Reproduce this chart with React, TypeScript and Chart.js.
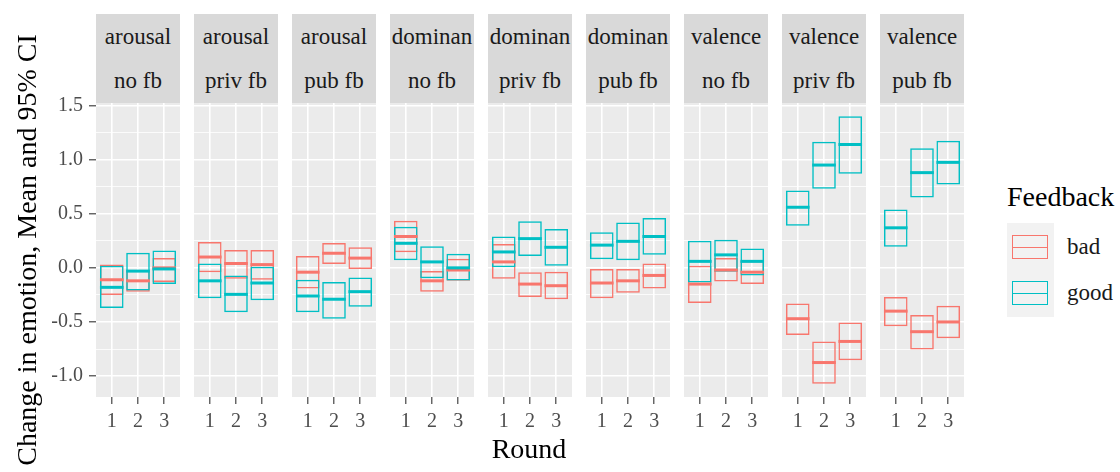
import React, { useEffect, useRef } from 'react';
import { Chart, registerables } from 'chart.js';

Chart.register(...registerables);

// ---------------- data ----------------
const MEASURES = ['arousal', 'dominan', 'valence'];
const CONDITIONS = ['no fb', 'priv fb', 'pub fb'];
const ROUNDS = [1, 2, 3];
const FEEDBACK = ['bad', 'good'];
const Y_MAJOR = [-1.0, -0.5, 0.0, 0.5, 1.0, 1.5];
const Y_MINOR = [-0.75, -0.25, 0.25, 0.75, 1.25];
const Y_TITLE = 'Change in emotion, Mean and 95% CI';
const X_TITLE = 'Round';
const LEGEND_TITLE = 'Feedback';

// one row per panel (arousal no/priv/pub, dominan no/priv/pub, valence no/priv/pub), one value per round
const BAD_MEAN = [
  [-0.11, -0.12, 0.0],
  [0.1, 0.04, 0.03],
  [-0.04, 0.135, 0.09],
  [0.29, -0.12, -0.02],
  [0.055, -0.15, -0.165],
  [-0.14, -0.12, -0.07],
  [-0.15, -0.02, -0.04],
  [-0.47, -0.875, -0.68],
  [-0.4, -0.59, -0.5],
];
const BAD_LO = [
  [-0.25, -0.22, -0.13],
  [-0.04, -0.1, -0.11],
  [-0.19, 0.035, -0.01],
  [0.145, -0.22, -0.12],
  [-0.1, -0.27, -0.29],
  [-0.28, -0.23, -0.19],
  [-0.325, -0.125, -0.15],
  [-0.62, -1.07, -0.855],
  [-0.54, -0.755, -0.65],
];
const BAD_HI = [
  [0.03, -0.02, 0.09],
  [0.24, 0.165, 0.165],
  [0.11, 0.23, 0.19],
  [0.435, -0.03, 0.085],
  [0.22, -0.04, -0.035],
  [-0.01, -0.01, 0.04],
  [0.02, 0.09, 0.065],
  [-0.33, -0.68, -0.505],
  [-0.27, -0.435, -0.35],
];
const GOOD_MEAN = [
  [-0.18, -0.03, -0.01],
  [-0.12, -0.245, -0.14],
  [-0.26, -0.29, -0.22],
  [0.227, 0.055, 0.0],
  [0.147, 0.27, 0.19],
  [0.21, 0.245, 0.29],
  [0.06, 0.12, 0.06],
  [0.56, 0.95, 1.14],
  [0.37, 0.88, 0.975],
];
const GOOD_LO = [
  [-0.37, -0.21, -0.15],
  [-0.28, -0.41, -0.3],
  [-0.41, -0.47, -0.36],
  [0.07, -0.095, -0.117],
  [0.006, 0.11, 0.02],
  [0.08, 0.07, 0.12],
  [-0.135, -0.035, -0.07],
  [0.39, 0.73, 0.87],
  [0.196, 0.65, 0.77],
];
const GOOD_HI = [
  [0.02, 0.14, 0.16],
  [0.04, -0.07, 0.01],
  [-0.11, -0.13, -0.09],
  [0.38, 0.2, 0.13],
  [0.29, 0.43, 0.36],
  [0.33, 0.42, 0.46],
  [0.25, 0.26, 0.18],
  [0.715, 1.165, 1.4],
  [0.54, 1.105, 1.175],
];

// ---------------- style / layout ----------------
const FONT = "'Liberation Serif', 'Times New Roman', serif";
const BAD_COLOR = '#F8766D';
const GOOD_COLOR = '#00BFC4';
const PANEL_BG = '#EBEBEB';
const STRIP_BG = '#D9D9D9';
const Y_MIN = -1.1935;
const Y_MAX = 1.5235;
const X_MIN = 0.4;
const X_MAX = 3.6;
const CROSSBAR_WIDTH = 0.9;

const PAGE_W = 1120;
const PAGE_H = 472;
const PANEL_LEFT0 = 96;
const PANEL_STEP = 98;
const PANEL_W = 84;
const PANEL_TOP = 103;
const PANEL_BOTTOM = 397;
const X_AXIS_H = 43;
const Y_AXIS_W = 96;
const STRIP_TOP = 14;

const isMajor = (v: number) => Y_MAJOR.some((m) => Math.abs(m - v) < 1e-9);

const bgPlugin = {
  id: 'panelBg',
  beforeDraw(chart: any) {
    const { ctx, chartArea: a } = chart;
    ctx.save();
    ctx.fillStyle = PANEL_BG;
    ctx.fillRect(a.left, a.top, a.right - a.left, a.bottom - a.top);
    ctx.restore();
  },
};

function halfBar(ctx: any) {
  const s = ctx.chart.scales.x;
  return Math.abs(s.getPixelForValue(1 + CROSSBAR_WIDTH / 2) - s.getPixelForValue(1));
}

function makeConfig(p: number): any {
  const first = p === 0;
  const meanSet = (label: string, means: number[], color: string, order: number) => ({
    type: 'scatter',
    label,
    data: ROUNDS.map((r, i) => ({ x: r, y: means[i] })),
    pointStyle: 'line',
    pointRadius: halfBar,
    pointHoverRadius: halfBar,
    pointBorderWidth: 3,
    pointBorderColor: color,
    pointBackgroundColor: color,
    order,
  });
  const boxSet = (label: string, lo: number[], hi: number[], color: string, order: number) => ({
    type: 'bar',
    label,
    data: ROUNDS.map((r, i) => ({ x: r, y: [lo[i], hi[i]] })),
    backgroundColor: 'rgba(0,0,0,0)',
    borderColor: color,
    borderWidth: 1.5,
    borderSkipped: false,
    grouped: false,
    barPercentage: CROSSBAR_WIDTH,
    categoryPercentage: 1,
    order,
  });
  return {
    type: 'bar',
    data: {
      datasets: [
        meanSet(FEEDBACK[1], GOOD_MEAN[p], GOOD_COLOR, 0),
        meanSet(FEEDBACK[0], BAD_MEAN[p], BAD_COLOR, 1),
        boxSet(FEEDBACK[1], GOOD_LO[p], GOOD_HI[p], GOOD_COLOR, 2),
        boxSet(FEEDBACK[0], BAD_LO[p], BAD_HI[p], BAD_COLOR, 3),
      ],
    },
    options: {
      animation: false,
      responsive: false,
      devicePixelRatio: 1,
      events: [],
      layout: {
        padding: { top: PANEL_TOP, left: 0, right: 0, bottom: PAGE_H - PANEL_BOTTOM - X_AXIS_H },
      },
      plugins: { legend: { display: false }, tooltip: { enabled: false }, title: { display: false } },
      scales: {
        x: {
          type: 'linear',
          min: X_MIN,
          max: X_MAX,
          offset: false,
          border: { display: false },
          grid: {
            offset: false,
            color: '#FFFFFF',
            lineWidth: 1.6,
            drawTicks: true,
            tickLength: 7,
            tickWidth: 1.1,
            tickColor: '#333333',
          },
          ticks: {
            font: { family: FONT, size: 20 },
            color: '#4D4D4D',
            padding: 6,
            maxRotation: 0,
            autoSkip: false,
            callback: (v: any) => String(v),
          },
          afterBuildTicks: (scale: any) => {
            scale.ticks = ROUNDS.map((v) => ({ value: v }));
          },
          afterFit: (scale: any) => {
            scale.height = X_AXIS_H;
          },
        },
        y: {
          type: 'linear',
          min: Y_MIN,
          max: Y_MAX,
          border: { display: false },
          grid: {
            color: '#FFFFFF',
            lineWidth: (ctx: any) => (ctx.tick && isMajor(ctx.tick.value) ? 1.6 : 0.8),
            drawTicks: first,
            tickLength: 7,
            tickWidth: 1.1,
            tickColor: (ctx: any) => (ctx.tick && isMajor(ctx.tick.value) ? '#333333' : 'rgba(0,0,0,0)'),
          },
          ticks: {
            display: first,
            font: { family: FONT, size: 20 },
            color: '#4D4D4D',
            padding: 6,
            autoSkip: false,
            callback: (v: any) => (isMajor(v) ? Number(v).toFixed(1) : ''),
          },
          title: {
            display: first,
            text: Y_TITLE,
            font: { family: FONT, size: 28 },
            color: '#000000',
            padding: { top: 12, bottom: 0 },
          },
          afterBuildTicks: (scale: any) => {
            scale.ticks = [...Y_MAJOR, ...Y_MINOR].sort((a, b) => a - b).map((v) => ({ value: v }));
          },
          afterFit: (scale: any) => {
            scale.width = first ? Y_AXIS_W : 0;
          },
        },
      },
    },
    plugins: [bgPlugin],
  };
}

function Panel({ index }: { index: number }) {
  const ref = useRef<HTMLCanvasElement | null>(null);
  const first = index === 0;
  const panelLeft = PANEL_LEFT0 + PANEL_STEP * index;
  const left = first ? 0 : panelLeft;
  const width = first ? panelLeft + PANEL_W : PANEL_W;
  const top = 0;
  const height = PAGE_H;
  useEffect(() => {
    if (!ref.current) return;
    const chart = new Chart(ref.current, makeConfig(index));
    return () => chart.destroy();
  }, [index]);
  return (
    <canvas
      ref={ref}
      width={width}
      height={height}
      style={{ position: 'absolute', left, top, width, height }}
    />
  );
}

function Strip({ index }: { index: number }) {
  const left = PANEL_LEFT0 + PANEL_STEP * index;
  const line = (text: string, top: number) => (
    <div
      style={{
        position: 'absolute',
        left: 0,
        top,
        width: '100%',
        height: 30,
        lineHeight: '30px',
        textAlign: 'center',
        whiteSpace: 'nowrap',
      }}
    >
      {text}
    </div>
  );
  return (
    <div
      style={{
        position: 'absolute',
        left,
        top: STRIP_TOP,
        width: PANEL_W,
        height: PANEL_TOP - STRIP_TOP,
        background: STRIP_BG,
        overflow: 'hidden',
        fontFamily: FONT,
        fontSize: 23,
        color: '#1A1A1A',
      }}
    >
      {line(MEASURES[Math.floor(index / 3)], 7.5)}
      {line(CONDITIONS[index % 3], 51.5)}
    </div>
  );
}

function LegendKey({ color, top }: { color: string; top: number }) {
  return (
    <div
      style={{
        position: 'absolute',
        left: 1012,
        top,
        width: 36,
        height: 24,
        boxSizing: 'border-box',
        border: `1.5px solid ${color}`,
      }}
    >
      <div
        style={{
          position: 'absolute',
          left: 0,
          right: 0,
          top: 10.5,
          height: 1.5,
          background: color,
        }}
      />
    </div>
  );
}

export default function App() {
  const panels = Array.from({ length: MEASURES.length * CONDITIONS.length }, (_, i) => i);
  return (
    <div
      style={{
        position: 'absolute',
        left: 0,
        top: 0,
        width: PAGE_W,
        height: PAGE_H,
        background: '#FFFFFF',
        overflow: 'hidden',
        fontFamily: FONT,
      }}
    >
      {panels.map((i) => (
        <Strip key={'s' + i} index={i} />
      ))}
      {panels.map((i) => (
        <Panel key={'p' + i} index={i} />
      ))}
      <div
        style={{
          position: 'absolute',
          left: 429,
          top: 432,
          width: 200,
          height: 34,
          lineHeight: '34px',
          textAlign: 'center',
          fontSize: 28,
          color: '#000',
        }}
      >
        {X_TITLE}
      </div>
      <div
        style={{
          position: 'absolute',
          left: 1007,
          top: 180,
          height: 34,
          lineHeight: '34px',
          fontSize: 28,
          color: '#000',
          whiteSpace: 'nowrap',
        }}
      >
        {LEGEND_TITLE}
      </div>
      <div style={{ position: 'absolute', left: 1007, top: 223, width: 47, height: 94, background: '#F2F2F2' }} />
      <LegendKey color={BAD_COLOR} top={235} />
      <LegendKey color={GOOD_COLOR} top={281} />
      {FEEDBACK.map((f, i) => (
        <div
          key={f}
          style={{
            position: 'absolute',
            left: 1067,
            top: 233 + i * 46,
            height: 28,
            lineHeight: '28px',
            fontSize: 23,
            color: '#1A1A1A',
            whiteSpace: 'nowrap',
          }}
        >
          {f}
        </div>
      ))}
    </div>
  );
}
